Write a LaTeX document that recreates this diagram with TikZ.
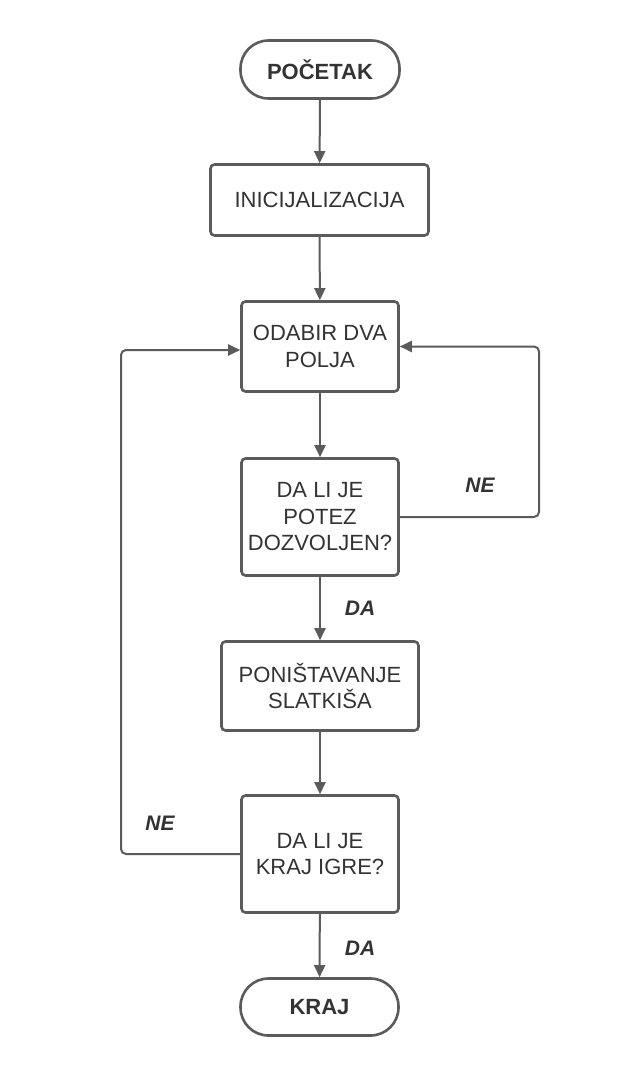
\documentclass[tikz,border=0pt]{standalone}
\usepackage{fontspec}
\setmainfont{Liberation Sans}
\usetikzlibrary{arrows.meta}
\definecolor{ln}{HTML}{5B5B5B}
\definecolor{tx}{HTML}{333333}
\begin{document}
\begin{tikzpicture}[x=1pt,y=-1pt,
 box/.style={draw=ln, line width=2.6pt, rounded corners=4pt, text=tx, align=center, inner sep=0pt, font=\fontsize{22}{26.5}\selectfont},
 term/.style={box, rounded corners=28pt, font=\fontsize{22}{26.5}\selectfont\bfseries},
 arr/.style={draw=ln, line width=2pt, -{Triangle[length=12pt,width=11pt]}},
 lab/.style={text=tx, inner sep=0pt, font=\fontsize{21}{25}\selectfont\bfseries\itshape}]
\useasboundingbox (0,0) rectangle (640,1078);
\fill[white] (0,0) rectangle (640,1078);

\node[term, minimum width=159pt, minimum height=58pt] (start) at (320,69.5) {POČETAK};
\node[box, minimum width=218pt, minimum height=71pt] (init) at (319.5,200) {INICIJALIZACIJA};
\node[box, minimum width=157pt, minimum height=90pt] (odabir) at (320,346.5) {ODABIR DVA\\POLJA};
\node[box, minimum width=157pt, minimum height=117pt] (potez) at (320,517) {DA LI JE\\POTEZ\\DOZVOLJEN?};
\node[box, minimum width=197pt, minimum height=89pt] (ponis) at (320,686) {PONIŠTAVANJE\\SLATKIŠA};
\node[box, minimum width=157pt, minimum height=117pt] (krajigre) at (320,854) {DA LI JE\\KRAJ IGRE?};
\node[term, minimum width=158pt, minimum height=57pt] (kraj) at (319.5,1007) {KRAJ};

\draw[arr] (start) -- (init);
\draw[arr] (init) -- (odabir);
\draw[arr] (odabir) -- (potez);
\draw[arr] (potez) -- (ponis);
\draw[arr] (ponis) -- (krajigre);
\draw[arr] (krajigre) -- (kraj);

\coordinate (rr) at (539,517);
\draw[arr, rounded corners=5pt] (potez.east) -- (rr |- potez.east) -- (rr |- odabir.east) -- (odabir.east);
\coordinate (lt) at ([yshift=-3.5pt]odabir.west);
\coordinate (ll) at (121,854);
\draw[arr, rounded corners=5pt] (krajigre.west) -- (ll |- krajigre.west) -- (ll |- lt) -- (lt);

\node[lab] (ne1) at (480,485) {NE};
\node[lab] (ne2) at (160,823) {NE};
\node[lab] (da1) at (360,608) {DA};
\node[lab] (da2) at (360,948) {DA};
\end{tikzpicture}
\end{document}
